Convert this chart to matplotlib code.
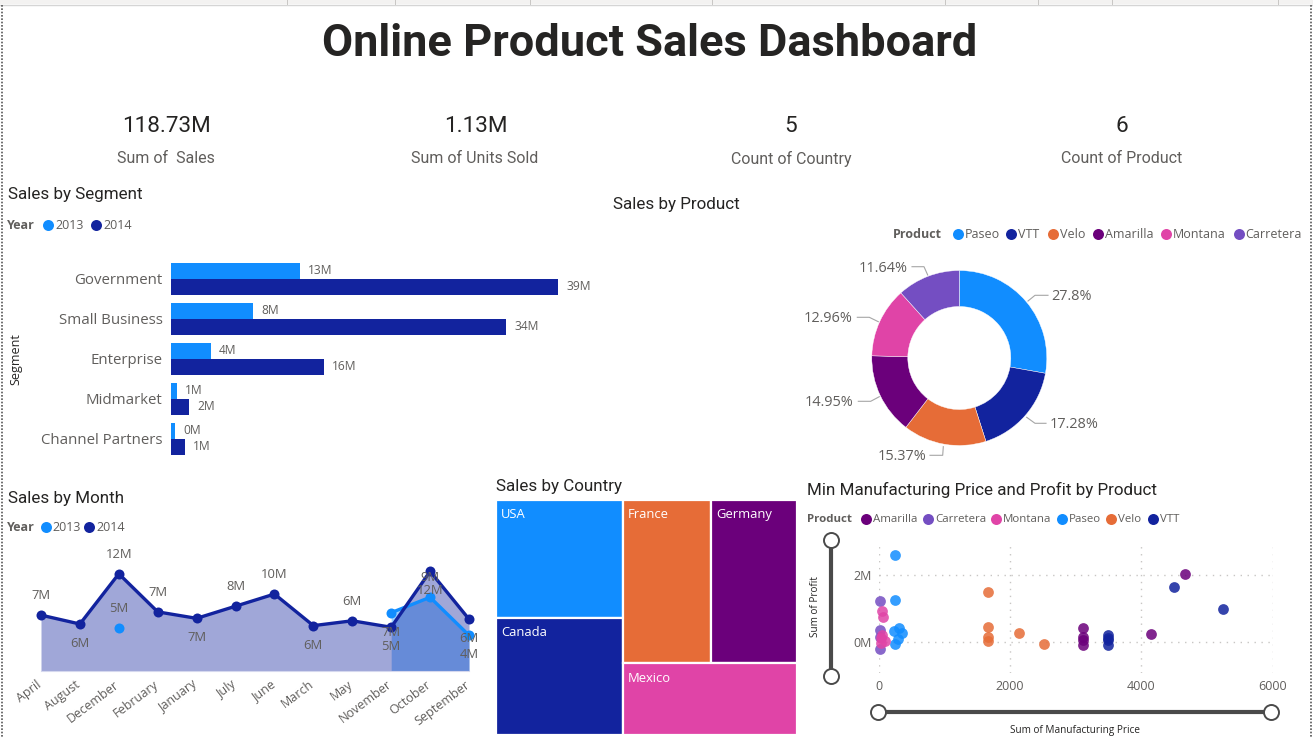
import matplotlib
matplotlib.use("Agg")
import matplotlib.pyplot as plt
import numpy as np
from matplotlib.patches import Rectangle

W, H = 1313, 738
BLUE, NAVY, ORANGE, PURPLE, PINK, VIOLET = "#118DFF", "#12239E", "#E66C37", "#6B007B", "#E044A7", "#744EC2"
GREY = "#605E5C"
DARK = "#252423"

segments = ["Government", "Small Business", "Enterprise", "Midmarket", "Channel Partners"]
seg_2013 = [13.0, 8.3, 4.0, 0.6, 0.4]
seg_2014 = [39.0, 33.8, 15.4, 1.8, 1.4]
seg_2013_labels = ["13M", "8M", "4M", "1M", "0M"]
seg_2014_labels = ["39M", "34M", "16M", "2M", "1M"]

months = ["April", "August", "December", "February", "January", "July", "June",
          "March", "May", "November", "October", "September"]
month_2014 = [6.9, 5.8, 12.0, 7.3, 6.5, 8.0, 9.5, 5.6, 6.2, 5.4, 12.3, 6.4]
month_2014_labels = ["7M", "6M", "12M", "7M", "7M", "8M", "10M", "6M", "6M", "5M", "12M", "6M"]
month_2014_side = [1, -1, 1, 1, -1, 1, 1, -1, 1, -1, -1, -1]
month_2013 = [np.nan, np.nan, 5.3, np.nan, np.nan, np.nan, np.nan, np.nan, np.nan, 7.2, 9.1, 4.4]
month_2013_labels = ["", "", "5M", "", "", "", "", "", "", "7M", "9M", "4M"]
month_2013_side = [0, 0, 1, 0, 0, 0, 0, 0, 0, -1, 1, -1]

products = ["Paseo", "VTT", "Velo", "Amarilla", "Montana", "Carretera"]
product_share = [27.80, 17.28, 15.37, 14.95, 12.96, 11.64]
product_labels = ["27.8%", "17.28%", "15.37%", "14.95%", "12.96%", "11.64%"]
product_colors = [BLUE, NAVY, ORANGE, PURPLE, PINK, VIOLET]

countries = ["USA", "Canada", "France", "Germany", "Mexico"]
country_sales = [25.03, 24.89, 24.35, 23.50, 20.95]
country_colors = [BLUE, NAVY, ORANGE, PURPLE, PINK]

paseo_x = [249, 249, 315, 239, 360, 289, 249]
paseo_y = [2.59, 1.25, 0.41, 0.34, 0.26, 0.10, -0.07]
carretera_x = [25, 25, 25, 25]
carretera_y = [1.22, 0.36, -0.20, 0.16]
montana_x = [50, 66, 50, 91, 35, 35]
montana_y = [0.94, 0.76, 0.21, 0.04, 0.11, -0.04]
velo_x = [1670, 1670, 1670, 1670, 2142, 2513]
velo_y = [1.49, 0.44, 0.14, 0.04, 0.27, -0.07]
amarilla_x = [4670, 4147, 3107, 3107, 3107, 3107]
amarilla_y = [2.05, 0.25, 0.42, 0.16, 0.06, -0.09]
vtt_x = [4492, 5239, 3492, 3492, 3492, 3492]
vtt_y = [1.65, 1.00, 0.21, 0.13, 0.05, -0.09]

kpi_values = ["118.73M", "1.13M", "5", "6"]
kpi_names = ["Sum of  Sales", "Sum of Units Sold", "Count of Country", "Count of Product"]

BODY = "Open Sans"
HEAD = "Roboto"
fig = plt.figure(figsize=(W / 100, H / 100), dpi=100, facecolor="white")


def px_axes(x0, y0, x1, y1, **kw):
    return fig.add_axes([x0 / W, 1 - y1 / H, (x1 - x0) / W, (y1 - y0) / H], **kw)


def size(px):
    return px * 0.72


ov = px_axes(0, 0, W, H, zorder=20)
ov.set_xlim(0, W)
ov.set_ylim(H, 0)
ov.axis("off")
ov.patch.set_alpha(0)


def T(x, y, s, px=13, color=GREY, ha="left", va="center", family=BODY, **kw):
    ov.text(x, y + 1, s, fontsize=size(px), color=color, ha=ha, va=va, family=family, **kw)


def legend(y, title, title_x, items, px=12.5):
    T(title_x, y, title, px, GREY, weight="bold")
    for dot_x, name, color in items:
        ov.plot([dot_x], [y], "o", ms=size(11), color=color, mew=0)
        T(dot_x + 7, y, name, px)


# chrome
ov.add_patch(Rectangle((0, 0), W, 4, color="#F3F2F1", lw=0))
ov.plot([0, W], [4.5, 4.5], color="#D5D5D5", lw=1)
for sep in [287, 395, 530, 712, 945, 1038, 1112, 1278]:
    ov.plot([sep, sep], [0, 4], color="#C8C6C4", lw=0.7)
ov.plot([1.5, 1.5], [5, H], color="#555555", lw=1.2, ls=(0, (1, 1)))
ov.plot([1311, 1311], [5, H], color="#555555", lw=1.2, ls=(0, (1, 1)))

# title and KPI cards
T(650, 43, "Online Product Sales Dashboard", 45.2, DARK, ha="center", family=HEAD, weight="bold")
for x, v in zip([167, 476, 791, 1122], kpi_values):
    T(x, 126, v, 22.5, DARK, ha="center", family=HEAD)
for x, n in zip([166, 475, 791, 1122], kpi_names):
    T(x, 157.5, n, 16, GREY, ha="center", family=HEAD)

# section headers
for x, y, name in [(8, 194, "Sales by Segment"), (613, 203, "Sales by Product"), (8, 498, "Sales by Month"),
                   (496, 486, "Sales by Country"), (807, 489, "Min Manufacturing Price and Profit by Product")]:
    T(x, y, name, 17, DARK, family=HEAD)

legend(224.5, "Year", 7, [(48, "2013", BLUE), (96, "2014", NAVY)])
legend(526.5, "Year", 7, [(45.7, "2013", BLUE), (89, "2014", NAVY)])
legend(233.5, "Product", 893, [(957.7, "Paseo", BLUE), (1011, "VTT", NAVY), (1053, "Velo", ORANGE),
                               (1097.7, "Amarilla", PURPLE), (1166, "Montana", PINK), (1238.7, "Carretera", VIOLET)])
legend(518.7, "Product", 807, [(866, "Amarilla", PURPLE), (928, "Carretera", VIOLET), (996, "Montana", PINK),
                               (1062, "Paseo", BLUE), (1111, "Velo", ORANGE), (1152.7, "VTT", NAVY)], px=11.5)

# segment bars
ax = px_axes(171, 258.5, 600, 458.5)
ax.set_xlim(0, 429 / 9.92)
ax.set_ylim(len(segments) - 0.5, -0.5)
ypos = np.arange(len(segments))
ax.barh(ypos - 0.2, seg_2013, 0.4, color=BLUE)
ax.barh(ypos + 0.2, seg_2014, 0.4, color=NAVY)
for y, a, b, la, lb in zip(ypos, seg_2013, seg_2014, seg_2013_labels, seg_2014_labels):
    ax.annotate(la, (a, y - 0.2), xytext=(6, 0), textcoords="offset points", va="center",
                fontsize=size(12), color=GREY, family=BODY)
    ax.annotate(lb, (b, y + 0.2), xytext=(6, 0), textcoords="offset points", va="center",
                fontsize=size(12), color=GREY, family=BODY)
ax.set_yticks(ypos, segments, fontsize=size(15), color=GREY, family=BODY)
ax.tick_params(axis="y", length=0, pad=6)
ax.set_xticks([])
for s in ax.spines.values():
    s.set_visible(False)
ax.patch.set_alpha(0)
T(16, 358, "Segment", 12.5, DARK, ha="center", rotation=90)

# month lines
ax = px_axes(41, 540, 469, 671)
ax.set_xlim(0, len(months) - 1)
ax.set_ylim(0, 131 / 8.1)
xm = np.arange(len(months))
m13 = np.array(month_2013)
ax.fill_between(xm[9:], m13[9:], 0, color=BLUE, alpha=0.40, lw=0)
ax.fill_between(xm, month_2014, 0, color=NAVY, alpha=0.40, lw=0)
ax.plot(xm, m13, color=BLUE, lw=2.4, clip_on=False, zorder=3)
ax.plot(xm, m13, "o", color=BLUE, ms=size(10), mew=0, clip_on=False, zorder=3)
ax.plot(xm, month_2014, color=NAVY, lw=2.4, clip_on=False, zorder=4)
ax.plot(xm, month_2014, "o", color=NAVY, ms=size(10), mew=0, clip_on=False, zorder=4)
for vals, labels, sides in [(month_2014, month_2014_labels, month_2014_side),
                            (month_2013, month_2013_labels, month_2013_side)]:
    for x, v, l, sd in zip(xm, vals, labels, sides):
        if l:
            ax.annotate(l, (x, v), xytext=(0, sd * 14), textcoords="offset points", ha="center", va="center",
                        fontsize=size(13), color=GREY, family=BODY, zorder=6, annotation_clip=False)
ax.set_xticks(xm, [""] * len(months))
for x, m in zip(xm, months):
    ax.annotate(m, (x, 0), xycoords=ax.get_xaxis_transform(), xytext=(-3.5, -5), textcoords="offset points",
                rotation=37, ha="right", va="top", rotation_mode="anchor",
                fontsize=size(12.5), color=GREY, family=BODY, annotation_clip=False)
ax.tick_params(axis="x", length=0)
ax.set_yticks([])
for s in ax.spines.values():
    s.set_visible(False)
ax.spines["bottom"].set_visible(True)
ax.spines["bottom"].set_color("#D5D8EE")
ax.patch.set_alpha(0)

# donut
ax = px_axes(959.3 - 87.5, 358 - 87.5, 959.3 + 87.5, 358 + 87.5)
ax.pie(product_share, colors=product_colors, startangle=90, counterclock=False, radius=1,
       wedgeprops=dict(width=1 - 51.5 / 87.5, edgecolor="white", lw=0.3))
ax.set_xlim(-1, 1)
ax.set_ylim(-1, 1)
leaders = [((1028, 301), (1035, 295.3), (1048, 295.3), (1051, 296), "left"),
           ((1026.7, 417.3), (1035, 423.3), (1046, 423.3), (1050, 424), "left"),
           ((943.3, 446.7), (942.7, 455.3), (930, 455.3), (926, 455.7), "right"),
           ((879.3, 396.7), (870.7, 401.3), (858.3, 401.3), (853, 401), "right"),
           ((878.3, 321.7), (869.3, 317.3), (857.3, 317.3), (852.7, 317.7), "right"),
           ((927.7, 275), (924, 266.7), (912, 266.7), (907.7, 267), "right")]
for lab, (a, b, c, t, ha) in zip(product_labels, leaders):
    ov.plot([a[0], b[0], c[0]], [a[1], b[1], c[1]], color="#A6A6A6", lw=0.8)
    T(t[0], t[1], lab, 14.5, GREY, ha=ha)

# treemap, laid out from the sales values
ax = px_axes(496, 500, 797, 735)
ax.set_xlim(0, 1)
ax.set_ylim(1, 0)
ax.axis("off")
total = sum(country_sales)
left_w = (country_sales[0] + country_sales[1]) / total
top_h = (country_sales[2] + country_sales[3]) / (total - country_sales[0] - country_sales[1])
usa_h = country_sales[0] / (country_sales[0] + country_sales[1])
fr_w = country_sales[2] / (country_sales[2] + country_sales[3]) * (1 - left_w)
rects = [(0, 0, left_w, usa_h), (0, usa_h, left_w, 1 - usa_h), (left_w, 0, fr_w, top_h),
         (left_w + fr_w, 0, 1 - left_w - fr_w, top_h), (left_w, top_h, 1 - left_w, 1 - top_h)]
for name, col, (x, y, w, h) in zip(countries, country_colors, rects):
    ax.add_patch(Rectangle((x, y), w, h, facecolor=col, edgecolor="white", lw=1.6))
    ax.annotate(name, (x, y), xytext=(3.5, -10.5), textcoords="offset points", va="center",
                fontsize=size(13), color="white", family=BODY)

# scatter
ax = px_axes(878.7, 543, 1272.7, 673)
ax.set_xlim(0, 6000)
ax.set_ylim((642 - 673) / 33.4, (642 - 543) / 33.4)
for xs, ys, col in [(amarilla_x, amarilla_y, PURPLE), (carretera_x, carretera_y, VIOLET), (vtt_x, vtt_y, NAVY),
                    (velo_x, velo_y, ORANGE), (paseo_x, paseo_y, BLUE), (montana_x, montana_y, PINK)]:
    ax.scatter(xs, ys, s=60, color=col, alpha=0.85, linewidths=0, clip_on=False, zorder=3)
ax.set_xticks([0, 2000, 4000, 6000], ["0", "2000", "4000", "6000"], fontsize=size(12.5), color=GREY, family=BODY)
ax.set_yticks([0, 2], ["0M", "2M"], fontsize=size(12.5), color=GREY, family=BODY)
ax.tick_params(length=0, pad=5)
ax.grid(True, color="#C8C6C4", lw=1, ls=(0, (1, 4)))
ax.set_axisbelow(True)
for s in ax.spines.values():
    s.set_visible(False)
ax.patch.set_alpha(0)
T(815, 606, "Sum of Profit", 10, DARK, ha="center", rotation=90)
T(1075, 729, "Sum of Manufacturing Price", 10, DARK, ha="center")

# zoom sliders
ov.plot([831, 831], [540, 676], color="#4A4A4A", lw=3, zorder=5)
ov.plot([878, 1271], [711.5, 711.5], color="#4A4A4A", lw=3, zorder=5)
ov.plot([831, 831], [540, 676], "o", ms=size(15), mfc="white", mec="#4A4A4A", mew=1.4, ls="", zorder=6)
ov.plot([878, 1271], [711.5, 711.5], "o", ms=size(15), mfc="white", mec="#4A4A4A", mew=1.4, ls="", zorder=6)

fig.savefig("out.png", dpi=100, facecolor="white")
